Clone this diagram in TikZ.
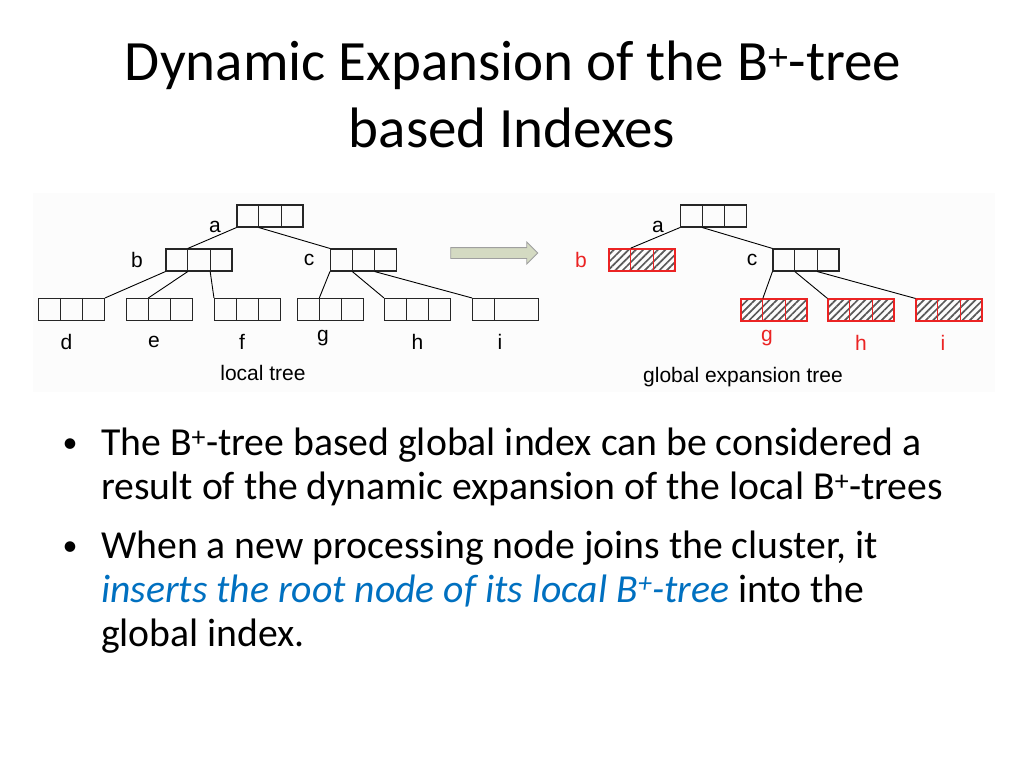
\documentclass[tikz,border=0pt]{standalone}
\usepackage{fontspec}
\setmainfont{Carlito}
\newfontfamily\arialfont{Liberation Sans}
\usetikzlibrary{calc,patterns.meta,shapes.arrows}
\definecolor{hatchred}{RGB}{235,35,35}
\definecolor{linkblue}{RGB}{0,112,192}
\definecolor{arrowfill}{RGB}{212,218,194}
\definecolor{panelgray}{RGB}{252,252,252}

\begin{document}
\begin{tikzpicture}[x=1pt,y=-1pt,
    bnode/.style={draw=black!85,line width=1.1pt,minimum width=66,minimum height=22,inner sep=0},
    hnode/.style={bnode,draw=hatchred,pattern={Lines[angle=45,distance=5.2pt,line width=1.7pt]},pattern color=black!65},
    lbl/.style={font=\arialfont\fontsize{21}{21}\selectfont,inner sep=0},
    captxt/.style={font=\arialfont\fontsize{21}{21}\selectfont,inner sep=0},
    link/.style={line width=0.9pt},
    ttl/.style={font=\fontsize{57}{57}\selectfont,inner sep=0,anchor=base},
    txt/.style={font=\fontsize{39.7}{44}\selectfont,inner sep=0,anchor=base west},
    dot/.style={font=\fontsize{30}{30}\selectfont,inner sep=0,anchor=base}]
    % Page and picture panel
    \useasboundingbox[fill=white] (0,0) rectangle (1024,768);
    \fill[panelgray] (33,193) rectangle (995,392);
    % Title
    \node[ttl] (title1) at (513,80) {Dynamic Expansion of the B\textsuperscript{+}-tree};
    \node[ttl] (title2) at (512,147) {based Indexes};
    % Local tree nodes
    \node[bnode] (la) at (270,216) {};
    \node[bnode] (lb) at (199,260) {};
    \node[bnode] (lc) at (363.5,260) {};
    \foreach \n/\x in {ld/71.5,le/159.5,lf/247.5,lg/330.5,lh/417.5,li/505.5}
        \node[bnode] (\n) at (\x,309.5) {};
    % Global expansion tree nodes
    \node[bnode] (ra) at (713.5,216) {};
    \node[hnode] (rb) at (642,260) {};
    \node[bnode] (rc) at (806,260) {};
    \foreach \n/\x in {rg/774,rh/861,ri/949}
        \node[hnode] (\n) at (\x,310) {};
    % Cell dividers
    \foreach \n/\c in {la/black!85,lb/black!85,lc/black!85,ld/black!85,le/black!85,lf/black!85,
        lg/black!85,lh/black!85,li/black!85,ra/black!85,rc/black!85,
        rb/hatchred,rg/hatchred,rh/hatchred,ri/hatchred} {
        \coordinate (\n-t1) at ($(\n.north west)!1/3!(\n.north east)$);
        \coordinate (\n-t2) at ($(\n.north west)!2/3!(\n.north east)$);
        \coordinate (\n-b1) at ($(\n.south west)!1/3!(\n.south east)$);
        \coordinate (\n-b2) at ($(\n.south west)!2/3!(\n.south east)$);
        \draw[\c,line width=1.1pt] (\n-t1) -- (\n-b1);
    }
    \foreach \n/\c in {la/black!85,lb/black!85,lc/black!85,ld/black!85,le/black!85,lf/black!85,
        lg/black!85,lh/black!85,ra/black!85,rc/black!85,
        rb/hatchred,rg/hatchred,rh/hatchred,ri/hatchred}
        \draw[\c,line width=1.1pt] (\n-t2) -- (\n-b2);
    % Links of the local tree
    \draw[link] (la.south west) -- (lb-t1);
    \draw[link] (la-b1) -- (lc.north west);
    \draw[link] (lb.south west) -- (ld.north east);
    \draw[link] (lb-b1) -- (le-t1);
    \draw[link] (lb-b2) -- (lf.north west);
    \draw[link] (lc.south west) -- (lg-t1);
    \draw[link] (lc-b1) -- (lh.north west);
    \draw[link] (lc-b2) -- (li.north west);
    % Links of the global expansion tree
    \draw[link] (ra.south west) -- (rb-t1);
    \draw[link] (ra-b1) -- (rc.north west);
    \draw[link] (rc.south west) -- (rg-t1);
    \draw[link] (rc-b1) -- (rh.north west);
    \draw[link] (rc-b2) -- (ri.north west);
    % Labels
    \node[lbl] (la-l) at (215,227) {a};
    \node[lbl] (lb-l) at (137,260) {b};
    \node[lbl] (lc-l) at (309,260) {c};
    \foreach \n/\x/\y/\t in {ld/66.5/341.5/d,le/154/341.5/e,lf/242/341.5/f,lg/323/338/g,lh/417.5/341.5/h,li/500/341.5/i}
        \node[lbl] (\n-l) at (\x,\y) {\t};
    \node[lbl] (ra-l) at (658,227) {a};
    \node[lbl,text=hatchred] (rb-l) at (581,260) {b};
    \node[lbl] (rc-l) at (752,260) {c};
    \foreach \n/\x/\y/\t in {rg/767/338/g,rh/861/342.5/h,ri/943/342.5/i}
        \node[lbl,text=hatchred] (\n-l) at (\x,\y) {\t};
    \node[captxt] (localcap) at (263,373) {local tree};
    \node[captxt] (globalcap) at (743,377) {global expansion tree};
    % Expansion arrow
    \node[single arrow,fill=arrowfill,draw=gray!75,line width=0.8pt,minimum height=87,
        single arrow head extend=5.5,inner xsep=0,inner ysep=5pt] (expand) at (491.5,253) {};
    % Bullets
    \node[dot] (dot1) at (70,452) {•};
    \node[txt] (b1l1) at (101,455.5) {The B\textsuperscript{+}-tree based global index can be considered a};
    \node[txt] (b1l2) at (101,499.5) {result of the dynamic expansion of the local B\textsuperscript{+}-trees};
    \node[dot] (dot2) at (70,555) {•};
    \node[txt] (b2l1) at (101,558) {When a new processing node joins the cluster, it};
    \node[txt] (b2l2) at (101,602) {{\color{linkblue}\itshape inserts the root node of its local B\textsuperscript{+}-tree} into the};
    \node[txt] (b2l3) at (101,646) {global index.};
\end{tikzpicture}
\end{document}
